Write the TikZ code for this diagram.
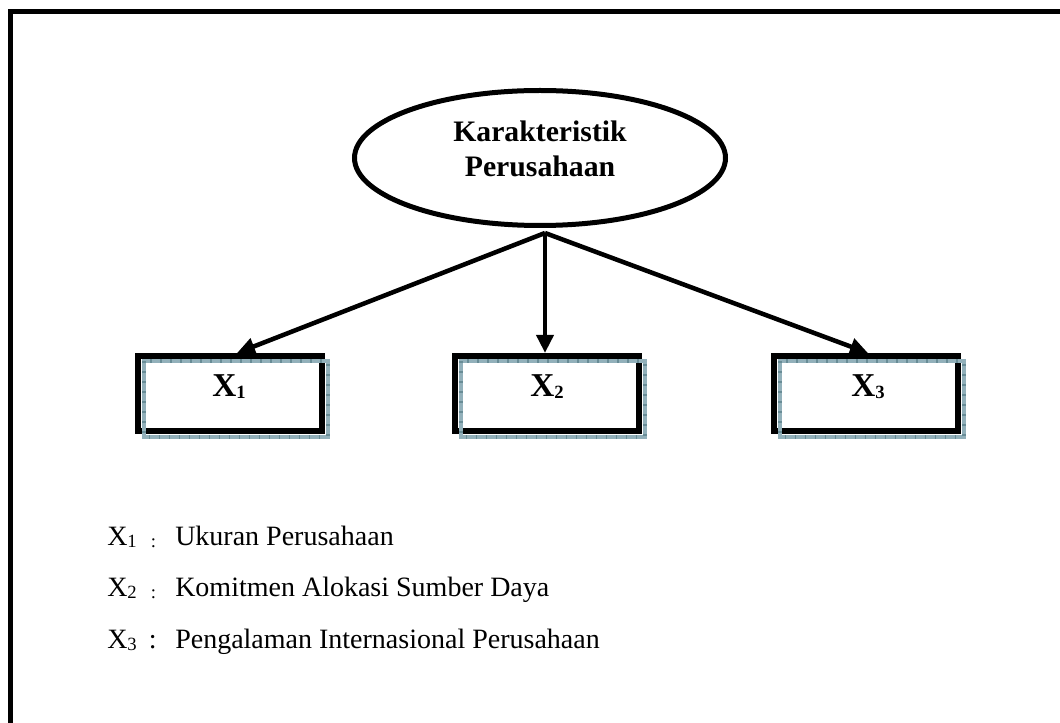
\documentclass[tikz,border=0pt]{standalone}
\usepackage{fontspec}
\setmainfont{Liberation Serif}
\usetikzlibrary{arrows.meta,shapes.geometric,calc}
\definecolor{shadowteal}{RGB}{146,176,186}
\definecolor{shadowtick}{RGB}{104,140,150}
\newcommand{\subdigit}[1]{\raisebox{-1.5pt}{\fontsize{14}{14}\selectfont #1}}
\begin{document}
\begin{tikzpicture}[x=0.75pt,y=-0.75pt,
  frameline/.style={line width=3.75pt, line join=miter},
  ovalnode/.style={draw, ellipse, line width=3.75pt, minimum width=278.25pt, minimum height=101.25pt, inner sep=0pt},
  varbox/.style={draw, rectangle, line width=4.5pt, minimum width=138pt, minimum height=56.25pt, inner sep=0pt},
  boxshadow/.style={draw=shadowteal, line width=3pt},
  boxtick/.style={draw=shadowtick, line width=3pt, dash pattern=on 0.8pt off 6.7pt},
  link/.style={line width=3.4pt, -{Triangle[length=13.5pt,width=12.5pt]}},
  ovaltext/.style={font=\fontsize{22.3}{26.3}\selectfont\bfseries, align=center, anchor=center, inner sep=0pt},
  vartext/.style={font=\fontsize{25}{28}\selectfont\bfseries, anchor=base, inner sep=0pt},
  legendline/.style={font=\fontsize{21}{24}\selectfont, anchor=base west, inner sep=0pt}
]
\useasboundingbox (0,0) rectangle (1060,723);

% page frame (top and left edges)
\draw[frameline] (10.5,730) -- (10.5,11.5) -- (1070,11.5);

% central construct
\node[ovalnode] (core) at (540,158) {};
\node[ovaltext] (coretext) at (540,148.5) {Karakteristik\\Perusahaan};

% indicator boxes with their patterned shadow frames
\node[varbox] (b1) at (230,393.5) {};
\node[varbox] (b2) at (547,393.5) {};
\node[varbox] (b3) at (866,393.5) {};
\foreach \b in {b1,b2,b3}{
  \draw[boxshadow] ($(\b.north west)+(8.5,8.5)$) rectangle ($(\b.south east)+(2.5,2.5)$);
  \draw[boxtick] ($(\b.north west)+(8.5,8.5)$) rectangle ($(\b.south east)+(2.5,2.5)$);
}

\node[vartext] (t1) at (229,397) {X\subdigit{1}};
\node[vartext] (t2) at (547,397) {X\subdigit{2}};
\node[vartext] (t3) at (868,397) {X\subdigit{3}};

% connectors
\coordinate (apex) at (545,233);
\draw[link] (apex) -- ($(b1.north)+(7,0)$);
\draw[link] (apex) -- (apex |- b2.north);
\draw[link] (apex) -- ($(b3.north)+(2,0)$);

% legend
\node[legendline] (leg1) at (107,545) {\makebox[51pt][l]{X\subdigit{1}\hspace{10.5pt}\raisebox{-2pt}{\fontsize{14}{14}\selectfont :}}Ukuran Perusahaan};
\node[legendline] (leg2) at (107,596) {\makebox[51pt][l]{X\subdigit{2}\hspace{10.5pt}\raisebox{-2pt}{\fontsize{14}{14}\selectfont :}}Komitmen Alokasi Sumber Daya};
\node[legendline] (leg3) at (107,648) {\makebox[51pt][l]{X\subdigit{3}\hspace{9pt}:}Pengalaman Internasional Perusahaan};
\end{tikzpicture}
\end{document}
